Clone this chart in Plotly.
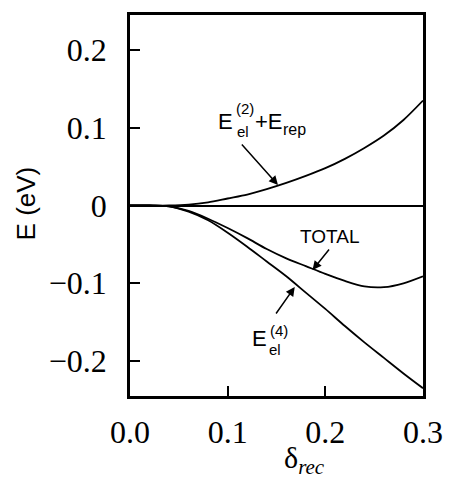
import plotly.graph_objects as go

delta = [0.00, 0.02, 0.04, 0.06, 0.08, 0.10, 0.12, 0.14, 0.16, 0.18, 0.20, 0.22, 0.24, 0.26, 0.28, 0.30]
e2_rep = [0.0, 0.0, 0.0, 0.001, 0.004, 0.009, 0.014, 0.021, 0.029, 0.038, 0.048, 0.060, 0.074, 0.090, 0.110, 0.135]
e4 = [0.0, 0.0, -0.001, -0.008, -0.019, -0.035, -0.053, -0.072, -0.091, -0.112, -0.133, -0.155, -0.176, -0.196, -0.216, -0.235]
total = [0.0, 0.0, -0.001, -0.007, -0.017, -0.029, -0.042, -0.056, -0.068, -0.078, -0.088, -0.097, -0.104, -0.105, -0.100, -0.091]

x_ticks = [0.0, 0.1, 0.2, 0.3]
x_ticktext = ["0.0", "0.1", "0.2", "0.3"]
y_ticks = [0.2, 0.1, 0.0, -0.1, -0.2]
y_ticktext = ["0.2", "0.1", "0", "\u22120.1", "\u22120.2"]

W, H = 455, 484
L, R, T, B = 130, 427, 15, 396


def px(xpix):
    return (xpix - L) / (R - L)


def py(ypix):
    return (B - ypix) / (B - T)


fig = go.Figure()
line = dict(color="black", width=1.8, shape="spline", smoothing=0.8)
for ys in (e2_rep, e4, total):
    fig.add_trace(go.Scatter(x=delta, y=ys, mode="lines", line=line,
                             showlegend=False, hoverinfo="skip"))

serif = "'Liberation Serif', 'Times New Roman', Times, serif"
sans = "'Liberation Sans', Arial, sans-serif"

fig.update_layout(
    width=W, height=H,
    margin=dict(l=L, r=W - R, t=T, b=H - B),
    paper_bgcolor="white", plot_bgcolor="white",
    font=dict(family=serif),
    xaxis=dict(range=[0, 0.3], tickvals=x_ticks, ticktext=x_ticktext,
               showline=True, linecolor="black", linewidth=2.5, mirror=True,
               ticks="inside", ticklen=10, tickwidth=1.5, tickcolor="black",
               showgrid=False, zeroline=False,
               tickfont=dict(family=serif, size=32, color="black"),
               ticklabelstandoff=6),
    yaxis=dict(range=[-0.245, 0.245], tickvals=y_ticks, ticktext=y_ticktext,
               showline=True, linecolor="black", linewidth=2.5, mirror=True,
               ticks="inside", ticklen=10, tickwidth=1.5, tickcolor="black",
               showgrid=False, zeroline=True, zerolinecolor="black",
               zerolinewidth=1.6,
               tickfont=dict(family=serif, size=32, color="black"),
               ticklabelstandoff=14),
)

ann = []


def txt(text, xpix, ypix, size, family=sans, xanchor="left", angle=0):
    ann.append(dict(text=text, x=px(xpix), y=py(ypix), xref="paper", yref="paper",
                    xanchor=xanchor, yanchor="middle", showarrow=False,
                    textangle=angle, borderpad=0,
                    font=dict(family=family, size=size, color="black")))


def arrow(x0, y0, x1, y1):
    ann.append(dict(text="", x=px(x1), y=py(y1), ax=px(x0), ay=py(y0),
                    xref="x domain", yref="y domain", axref="x domain", ayref="y domain",
                    showarrow=True, arrowhead=2, arrowsize=1.2, arrowwidth=1.5,
                    arrowcolor="black", standoff=0, startstandoff=0))


# E_el^(2) + E_rep label
txt("E", 218, 121, 22)
txt("(2)", 236, 108, 15)
txt("el", 237, 131, 15)
txt("+E", 256, 121, 22)
txt("rep", 284, 129, 16)
arrow(242, 143, 280, 185)

# TOTAL label
txt("TOTAL", 332, 236, 19, xanchor="center")
arrow(333, 248, 315, 270)

# E_el^(4) label
txt("E", 253, 338, 22)
txt("(4)", 271, 330, 15)
txt("el", 270, 349, 15)
arrow(277, 315, 297, 287)

# axis titles
txt("E (eV)", 25, 203, 26, xanchor="center", angle=-90)
txt("\u03b4<sub><i>rec</i></sub>", 307, 460, 30, family=serif, xanchor="center")

fig.update_layout(annotations=ann)
fig.write_html("out.html")
